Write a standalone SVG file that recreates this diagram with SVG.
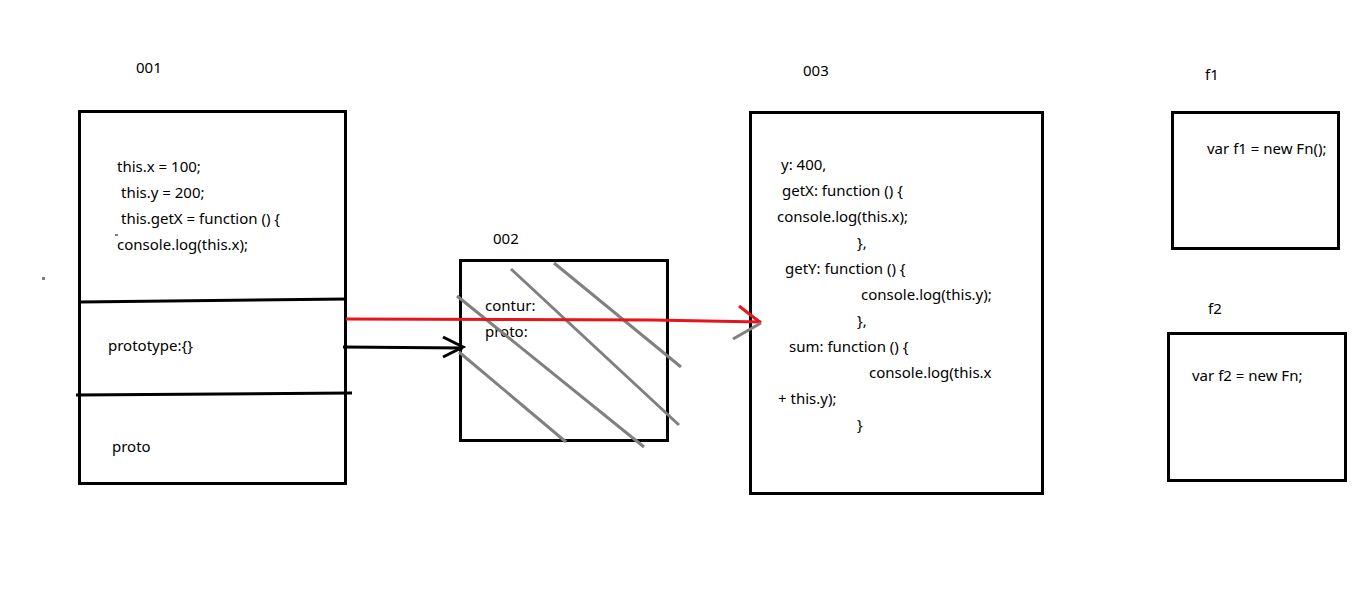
<svg xmlns="http://www.w3.org/2000/svg" width="1353" height="594" viewBox="0 0 1353 594">
<style>
text{font-family:"Noto Sans","Liberation Sans",sans-serif;font-size:15px;fill:#000}
.box{fill:none;stroke:#000;stroke-width:3}
.hatch{stroke:#808080;stroke-width:3;fill:none}
</style>
<rect width="1353" height="594" fill="#fff"/>
<g id="node-001">
<text x="136" y="73">001</text>
<rect class="box" x="79.5" y="111.5" width="266" height="372"/>
<path d="M80 302 L347 299" stroke="#000" stroke-width="3"/>
<path d="M76 395 L352 393" stroke="#000" stroke-width="3"/>
<text x="117" y="172">this.x = 100;</text>
<text x="121" y="198">this.y = 200;</text>
<text x="121" y="224">this.getX = function () {</text>
<text x="117" y="250">console.log(this.x);</text>
<text x="108" y="351">prototype:{}</text>
<text x="112" y="452">proto</text>
<rect x="115" y="234" width="3" height="2" fill="#808080"/>
<rect x="42" y="277" width="3" height="3" fill="#808080"/>
</g>
<g id="node-002">
<text x="493" y="244">002</text>
<rect class="box" x="460.5" y="260.5" width="207" height="180"/>
<text x="485" y="311">contur:</text>
<text x="485" y="337">proto:</text>
<path class="hatch" d="M457 296 L644 447 M511 269 L679 425 M554 263 L681 367 M459 352 L566 442"/>
</g>
<g id="node-003">
<text x="803" y="76">003</text>
<rect class="box" x="750.5" y="112.5" width="292" height="381"/>
<text x="781" y="170">y: 400,</text>
<text x="782" y="196">getX: function () {</text>
<text x="777" y="222">console.log(this.x);</text>
<text x="857" y="248">},</text>
<text x="785" y="274">getY: function () {</text>
<text x="861" y="300">console.log(this.y);</text>
<text x="857" y="326">},</text>
<text x="789" y="352">sum: function () {</text>
<text x="869" y="378">console.log(this.x</text>
<text x="778" y="404">+ this.y);</text>
<text x="857" y="430">}</text>
</g>
<g id="node-f1">
<text x="1205" y="80">f1</text>
<rect class="box" x="1172.5" y="112.5" width="166" height="136"/>
<text x="1207" y="154">var f1 = new Fn();</text>
</g>
<g id="node-f2">
<text x="1208" y="314">f2</text>
<rect class="box" x="1168.5" y="333.5" width="177" height="147"/>
<text x="1192" y="381">var f2 = new Fn;</text>
</g>
<g id="connectors">
<path d="M346 319 L652 320 L761 322" stroke="#e8141c" stroke-width="3" fill="none"/>
<path d="M739 306 L761 323" stroke="#e8141c" stroke-width="3" fill="none"/>
<path d="M733 339 L761 323" stroke="#808080" stroke-width="3" fill="none"/>
<path d="M343 347 L463 348" stroke="#000" stroke-width="3" fill="none"/>
<path d="M443 337 L463 347 L443 357" stroke="#000" stroke-width="3" fill="none"/>
</g>
</svg>
